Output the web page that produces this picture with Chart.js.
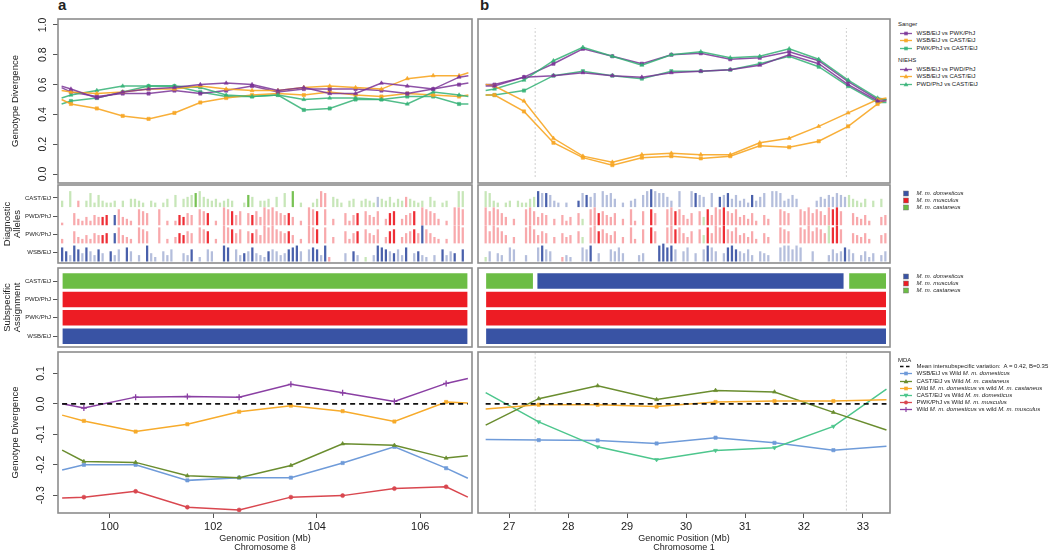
<!DOCTYPE html>
<html>
<head>
<meta charset="utf-8">
<title>Genotype divergence, chromosome 8 and chromosome 1</title>
<script src="https://cdn.jsdelivr.net/npm/chart.js@4.4.1/dist/chart.umd.min.js"></script>
<style>
  body { margin: 0; width: 1050px; height: 552px; position: relative; overflow: hidden; background: #fff;
         font-family: 'Liberation Sans', Arial, Helvetica, sans-serif; color: #222; }
  canvas { position: absolute; }
  .tag { position: absolute; font-weight: bold; font-size: 15px; line-height: 15px; }
  .lg { position: absolute; font-size: 6px; line-height: 7px; height: 7px; white-space: nowrap; display: flex; align-items: center; }
  .lg svg { flex: none; margin-right: 4.5px; }
</style>
</head>
<body>
<div class="tag" style="left:58px;top:-3px">a</div>
<div class="tag" style="left:480px;top:-3px">b</div>
<script>
// ---------- top row: genotype divergence between the classical strains ----------
// window midpoints (Mb); first and last entries are where the lines meet the panel edge
const topXA = [99.07, 99.25, 99.75, 100.25, 100.75, 101.25, 101.75, 102.25, 102.75, 103.25, 103.75, 104.25, 104.75, 105.25, 105.75, 106.25, 106.75, 106.93];
const sangerWsbPwkA  = [0.58, 0.55, 0.52, 0.54, 0.54, 0.56, 0.54, 0.56, 0.59, 0.55, 0.57, 0.57, 0.57, 0.56, 0.54, 0.57, 0.60, 0.61];
const sangerWsbCastA = [0.50, 0.47, 0.44, 0.39, 0.37, 0.41, 0.48, 0.51, 0.53, 0.54, 0.53, 0.55, 0.53, 0.52, 0.54, 0.53, 0.52, 0.53];
const sangerPwkCastA = [0.47, 0.49, 0.51, 0.55, 0.59, 0.59, 0.55, 0.52, 0.52, 0.53, 0.43, 0.44, 0.50, 0.50, 0.52, 0.52, 0.47, 0.47];
const niehsWsbPwdA   = [0.59, 0.57, 0.51, 0.55, 0.57, 0.58, 0.60, 0.61, 0.60, 0.56, 0.58, 0.54, 0.54, 0.61, 0.59, 0.57, 0.65, 0.66];
const niehsWsbCastA  = [0.56, 0.55, 0.54, 0.55, 0.57, 0.57, 0.59, 0.57, 0.56, 0.56, 0.58, 0.59, 0.58, 0.57, 0.64, 0.66, 0.66, 0.68];
const niehsPwdCastA  = [0.51, 0.53, 0.56, 0.59, 0.59, 0.59, 0.58, 0.53, 0.52, 0.53, 0.50, 0.51, 0.51, 0.50, 0.47, 0.55, 0.53, 0.52];

const topXB = [26.6, 26.75, 27.25, 27.75, 28.25, 28.75, 29.25, 29.75, 30.25, 30.75, 31.25, 31.75, 32.25, 32.75, 33.25, 33.4];
const sangerWsbPwkB  = [0.60, 0.60, 0.65, 0.74, 0.84, 0.79, 0.74, 0.80, 0.81, 0.77, 0.78, 0.82, 0.76, 0.62, 0.50, 0.50];
const sangerWsbCastB = [0.53, 0.53, 0.42, 0.21, 0.11, 0.06, 0.11, 0.12, 0.105, 0.12, 0.19, 0.18, 0.22, 0.32, 0.47, 0.50];
const sangerPwkCastB = [0.53, 0.53, 0.56, 0.66, 0.69, 0.66, 0.64, 0.69, 0.69, 0.70, 0.74, 0.79, 0.72, 0.59, 0.48, 0.48];
const niehsWsbPwdB   = [0.59, 0.59, 0.65, 0.66, 0.68, 0.66, 0.65, 0.68, 0.69, 0.70, 0.73, 0.80, 0.74, 0.60, 0.49, 0.49];
const niehsWsbCastB  = [0.60, 0.59, 0.49, 0.24, 0.12, 0.08, 0.13, 0.14, 0.13, 0.13, 0.21, 0.24, 0.32, 0.41, 0.50, 0.51];
const niehsPwdCastB  = [0.56, 0.57, 0.63, 0.76, 0.85, 0.79, 0.73, 0.80, 0.82, 0.78, 0.79, 0.84, 0.77, 0.63, 0.51, 0.50];

// ---------- diagnostic alleles: bar height per slot (0-9), negative = dark (high confidence) ----------
const strains = ['WSB/EiJ', 'PWK/PhJ', 'PWD/PhJ', 'CAST/EiJ'];   // bottom to top
const slotsA = {from: 99.08, step: 0.0782};
const slotsB = {from: 26.6, step: 0.0685};

const wsbHitsA = [-7,-5,3,-8,-6,4,-7,5,3,-6, 4,0,-5,3,6,0,-7,5,0,3, 0,-8,4,2,0,5,3,6,0,0, 4,3,-6,0,2,0,6,5,0,0,
  -8,-7,0,6,3,-4,5,-7,4,3, 2,-5,6,5,3,4,-6,-7,-8,5, 0,6,-7,-6,3,-8,2,0,0,0, 4,0,-5,3,0,2,0,3,-8,-7,
  -6,5,-4,6,3,-7,0,4,-5,3, 2,0,3,0,-6,3,5,-4,0,-6];
const pwkHitsA = [2,0,0,6,3,2,4,2,5,4, -4,-5,0,-5,8,4,3,2,0,8, 7,6,0,0,8,0,2,0,3,-5, -4,6,5,0,8,7,-6,0,2,0,
  9,8,-7,5,7,0,6,-5,7,4, 9,8,9,7,6,5,-6,4,0,2, 0,9,8,-7,0,8,0,3,0,0, 6,2,5,-6,0,7,5,4,7,0,
  3,-6,-7,0,3,5,6,-7,5,-9, 7,5,3,2,0,2,0,9,9,8];
const pwdHitsA = [1,0,0,6,3,2,4,2,5,4, -4,-5,0,-5,8,4,3,2,0,8, 7,6,0,0,8,0,2,0,2,-5, -4,6,5,0,8,7,-6,0,2,0,
  9,8,-7,5,7,0,6,-5,7,4, 9,8,9,7,6,5,-6,4,0,2, 0,9,8,-7,0,8,0,3,0,0, 6,2,5,-6,0,7,5,4,7,0,
  3,-6,-7,0,3,5,6,-7,0,9, 8,7,6,3,0,2,0,9,9,8];
const castHitsA = [3,0,8,0,3,0,3,7,2,6, 3,2,2,3,0,3,0,4,4,3, 2,0,3,2,0,2,4,0,6,0, 4,5,6,-7,8,5,4,3,4,2,
  3,4,3,0,0,2,-6,5,0,3, 3,4,0,5,0,7,0,-8,0,2, 0,0,2,4,8,7,0,5,4,2, 0,3,4,0,3,4,3,2,5,4,
  3,5,2,4,3,5,4,3,2,3, 0,5,3,0,2,3,0,0,8,8];
// slots whose allele belongs to another subspecies than the strain's block
const oddA = [{66: 'mus', 75: 'cas'}, {13: 'dom', 89: 'dom'}, {13: 'dom'}, {4: 'mus', 64: 'mus', 65: 'mus', 78: 'dom', 85: 'mus'}];

const wsbHitsB = [2,5,0,4,3,0,7,6,0,0, 3,0,0,7,-8,6,5,0,0,2, 3,2,0,0,7,6,-8,0,4,0, 0,6,5,7,4,0,0,0,3,4,
  0,0,0,-8,-9,-7,-8,6,0,5, 7,0,4,0,6,-8,7,5,0,4, -7,-8,-6,5,4,6,3,0,5,4, 3,0,0,7,8,8,6,8,7,0,
  0,5,0,0,0,3,6,4,5,-7, 6,4,0,3,5,2,4,0,3,5];
const pwkHitsB = [9,6,9,8,6,4,0,3,0,0, 8,9,7,4,6,5,0,3,0,5, 3,4,0,6,3,0,8,9,-6,7, 5,4,6,0,3,0,8,2,0,7,
  0,-8,6,0,0,8,9,-7,8,5, 3,6,0,7,4,-8,5,9,8,-9, 7,6,8,4,5,3,6,2,0,5, 3,0,0,8,7,6,0,0,8,7,
  9,6,8,7,5,9,-8,-9,7,0, 0,5,4,3,5,2,0,0,4,5];
const pwdHitsB = [9,7,9,8,6,4,0,3,0,0, 8,9,7,4,6,5,0,3,0,5, 2,4,0,6,3,0,8,9,-6,7, 5,4,6,0,3,0,8,2,0,7,
  0,-8,6,0,0,8,9,-7,8,5, 3,6,0,7,4,-8,5,9,8,-9, 7,6,8,4,5,3,6,2,0,5, 3,0,0,8,7,6,0,0,8,7,
  9,6,8,7,5,9,-8,-9,7,0, 0,6,4,3,5,2,0,0,4,5];
const castHitsB = [8,7,3,2,0,2,3,0,3,2, 2,4,5,-8,7,-7,6,3,2,0, 2,0,0,-3,7,-6,5,7,0,8, 6,7,4,0,2,0,3,4,0,6,
  8,-9,8,7,7,5,3,0,8,0, 0,8,-7,6,5,0,7,0,-5,6, -7,4,6,3,4,2,-6,3,5,7, 0,8,8,7,3,4,6,4,0,0,
  0,0,3,5,4,6,5,7,6,5, 6,4,3,2,4,0,3,0,4,0];
const oddB = [{0: 'cas', 19: 'mus'}, {24: 'cas', 54: 'cas', 85: 'cas'}, {24: 'cas', 54: 'cas'}, {}];

// ---------- subspecific assignment blocks: [row, from Mb, to Mb, subspecies] ----------
const assignA = [[0, 99.08, 106.92, 'dom'], [1, 99.08, 106.92, 'mus'], [2, 99.08, 106.92, 'mus'], [3, 99.08, 106.92, 'cas']];
const assignB = [[0, 26.6, 33.4, 'dom'], [1, 26.6, 33.4, 'mus'], [2, 26.6, 33.4, 'mus'],
                 [3, 26.6, 27.41, 'cas'], [3, 27.47, 32.68, 'dom'], [3, 32.76, 33.4, 'cas']];
const breaksB = [27.44, 32.72];

// ---------- bottom row: MDA comparisons with wild mice ----------
const mdaXA = [99.08, 99.5, 100.5, 101.5, 102.5, 103.5, 104.5, 105.5, 106.5, 106.92];
const wsbWildDomA  = [-0.217, -0.200, -0.200, -0.251, -0.242, -0.242, -0.194, -0.141, -0.211, -0.244];
const castWildCasA = [-0.152, -0.189, -0.192, -0.236, -0.242, -0.202, -0.131, -0.136, -0.178, -0.170];
const wildDomCasA  = [-0.037, -0.056, -0.091, -0.067, -0.026, -0.006, -0.024, -0.058, 0.006, 0.003];
const pwkWildMusA  = [-0.309, -0.306, -0.287, -0.339, -0.348, -0.306, -0.301, -0.278, -0.272, -0.306];
const wildDomMusA  = [0.000, -0.014, 0.022, 0.024, 0.022, 0.064, 0.036, 0.008, 0.067, 0.083];
const mdaXB = [26.6, 27.5, 28.5, 29.5, 30.5, 31.5, 32.5, 33.4];
const wsbWildDomB  = [-0.117, -0.119, -0.120, -0.130, -0.111, -0.128, -0.152, -0.139];
const castWildCasB = [-0.070, 0.017, 0.059, 0.014, 0.044, 0.039, -0.028, -0.086];
const wildDomCasB  = [-0.017, -0.003, -0.003, -0.009, 0.006, 0.009, 0.009, 0.013];
const castWildDomB = [0.037, -0.059, -0.141, -0.183, -0.153, -0.144, -0.074, 0.048];
const meanLevel = 0;

const topTicks = [0, 0.2, 0.4, 0.6, 0.8, 1.0];
const mdaTicks = [0.1, 0, -0.1, -0.2, -0.3];
const xTicksA = [100, 102, 104, 106];
const xTicksB = [27, 28, 29, 30, 31, 32, 33];

// ---------- colours ----------
const PURPLE = 'rgba(122,52,150,0.85)', ORANGE = 'rgba(247,166,36,0.9)', GREEN = 'rgba(52,178,118,0.85)';
const BLUE = '#6F9BD9', OLIVE = '#6A8D2F', ORANGE2 = '#F7AB2B', TEAL = '#4DC68D', RED = '#D9474F', PURPLE2 = '#8A3FA3';
const speciesRGB = {dom: '57,83,164', mus: '237,28,36', cas: '108,189,69'};
const TICK = '#555';

Chart.defaults.font.family = "'Liberation Sans', Arial, Helvetica, sans-serif";
Chart.defaults.color = '#222';

const frame = {
  id: 'frame',
  afterDatasetsDraw(chart) {
    const {ctx, chartArea: a} = chart;
    ctx.save();
    ctx.strokeStyle = '#8d8d8d';
    ctx.lineWidth = 1.6;
    ctx.strokeRect(a.left, a.top, a.right - a.left, a.bottom - a.top);
    ctx.restore();
  }
};

function fit(size) {
  return s => {
    if (s.isHorizontal()) s.height = size; else s.width = size;
    s.paddingLeft = s.paddingRight = s.paddingTop = s.paddingBottom = 0;
  };
}
function fixedTicks(vals) {
  return s => { s.ticks = vals.map(v => ({value: v})); };
}

function yAxis(min, max, ticks, opt) {
  if (!opt) return {type: 'linear', min, max, display: false, offset: false};
  return {
    type: 'linear', min, max, offset: false,
    afterBuildTicks: fixedTicks(ticks),
    afterFit: fit(58),
    border: {display: false},
    grid: {drawOnChartArea: false, tickLength: 5, color: TICK, offset: false},
    ticks: {
      autoSkip: false,
      minRotation: opt.rotate ? 90 : 0, maxRotation: opt.rotate ? 90 : 0,
      crossAlign: opt.rotate ? 'center' : 'near', padding: opt.rotate ? 3 : 2,
      font: {size: opt.size}, color: '#222', callback: opt.label
    },
    title: {display: true, text: opt.title, font: {size: 9.5, lineHeight: 1.05}, color: '#222',
            padding: {top: opt.tpad, bottom: 0}}
  };
}

function xAxis(range, ticks, title) {
  if (!ticks) return {type: 'linear', min: range[0], max: range[1], display: false, offset: false};
  return {
    type: 'linear', min: range[0], max: range[1], offset: false,
    afterBuildTicks: fixedTicks(ticks),
    afterFit: fit(39),
    border: {display: false},
    grid: {drawOnChartArea: false, tickLength: 5, color: TICK, offset: false},
    ticks: {autoSkip: false, maxRotation: 0, minRotation: 0, padding: 2, font: {size: 11}, color: '#222',
            callback: v => String(v)},
    title: {display: true, text: title, font: {size: 9, lineHeight: 1.0}, color: '#222', padding: {top: 0, bottom: 0}}
  };
}

const COLS = {
  a: {left: 0, width: 474, pad: [0, 2], range: [99, 107]},
  b: {left: 476, width: 416, pad: [2, 2], range: [26.47, 33.46]}
};
const ROWS = {
  top: {top: 19, height: 164},
  alleles: {top: 185, height: 78},
  assign: {top: 268, height: 79},
  mda: {top: 352, height: 161, xAxis: 39}
};

function panel(col, row, config) {
  const c = COLS[col], r = ROWS[row];
  const cv = document.createElement('canvas');
  cv.width = c.width;
  cv.height = r.height + 2 + (r.xAxis || 2);
  cv.style.left = c.left + 'px';
  cv.style.top = (r.top - 2) + 'px';
  document.body.appendChild(cv);
  Object.assign(config.options, {
    responsive: false, animation: false, events: [],
    layout: {padding: {left: c.pad[0], right: c.pad[1], top: 2, bottom: r.xAxis ? 0 : 2}},
    plugins: {legend: {display: false}, tooltip: {enabled: false}}
  });
  config.plugins = [frame];
  return new Chart(cv, config);
}

function line(xs, ys, color, style, extra) {
  const last = xs.length - 1;
  return Object.assign({
    data: xs.map((x, i) => ({x, y: ys[i]})),
    borderColor: color, backgroundColor: color, borderWidth: 1.5,
    pointStyle: style, pointRadius: c => (c.dataIndex === 0 || c.dataIndex === last) ? 0 : 2.3,
    pointBorderWidth: 0.6, tension: 0
  }, extra || {});
}
function vline(x, y0, y1) {
  return {data: [{x, y: y0}, {x, y: y1}], borderColor: '#cfcfcf', borderWidth: 1, borderDash: [2, 2], pointRadius: 0};
}
function meanLine(xs) {
  return {data: [{x: xs[0], y: meanLevel}, {x: xs[xs.length - 1], y: meanLevel}],
          borderColor: '#111', borderWidth: 1.8, borderDash: [5, 4], pointRadius: 0};
}

const rowCentre = 0.47;
const rowTicks = strains.map((s, i) => i + rowCentre);
const strainLabel = v => strains[Math.round(v - rowCentre)];

// ---------- top row ----------
panel('a', 'top', {
  type: 'line',
  data: {datasets: [
    line(topXA, niehsWsbPwdA, PURPLE, 'triangle'),
    line(topXA, niehsWsbCastA, ORANGE, 'triangle'),
    line(topXA, niehsPwdCastA, GREEN, 'triangle'),
    line(topXA, sangerWsbPwkA, PURPLE, 'rect'),
    line(topXA, sangerWsbCastA, ORANGE, 'rect'),
    line(topXA, sangerPwkCastA, GREEN, 'rect')
  ]},
  options: {scales: {
    x: xAxis(COLS.a.range),
    y: yAxis(-0.06, 1.04, topTicks, {rotate: true, size: 10.5, label: v => v.toFixed(1), title: 'Genotype Divergence', tpad: 10})
  }}
});
panel('b', 'top', {
  type: 'line',
  data: {datasets: [
    line(topXB, niehsWsbPwdB, PURPLE, 'triangle'),
    line(topXB, niehsWsbCastB, ORANGE, 'triangle'),
    line(topXB, niehsPwdCastB, GREEN, 'triangle'),
    line(topXB, sangerWsbPwkB, PURPLE, 'rect'),
    line(topXB, sangerWsbCastB, ORANGE, 'rect'),
    line(topXB, sangerPwkCastB, GREEN, 'rect'),
    vline(breaksB[0], -0.02, 0.98),
    vline(breaksB[1], -0.02, 0.98)
  ]},
  options: {scales: {x: xAxis(COLS.b.range), y: yAxis(-0.06, 1.04)}}
});

// ---------- diagnostic alleles ----------
function speciesAt(segs, row, x) {
  let best = null, bestD = Infinity;
  segs.forEach(([r, a, b, sp]) => {
    if (r !== row) return;
    const d = x < a ? a - x : (x > b ? x - b : 0);
    if (d < bestD) { bestD = d; best = sp; }
  });
  return best;
}
function alleleBars(rows, odd, slots, segs) {
  const bars = [];
  rows.forEach((hits, r) => {
    hits.forEach((h, i) => {
      if (!h) return;
      const x = slots.from + i * slots.step;
      const sp = odd[r][i] || speciesAt(segs, r, x);
      const alpha = h < 0 ? 0.92 : 0.38;
      bars.push({x, y: [r - 0.02, r - 0.02 + 0.95 * Math.abs(h) / 9], c: `rgba(${speciesRGB[sp]},${alpha})`});
    });
  });
  return bars;
}
function allelePanel(col, rows, odd, slots, segs, withAxis) {
  panel(col, 'alleles', {
    type: 'bar',
    data: {datasets: [{data: alleleBars(rows, odd, slots, segs), backgroundColor: c => c.raw.c,
                       barThickness: 1.6, borderWidth: 0}]},
    options: {scales: {
      x: xAxis(COLS[col].range),
      y: yAxis(-0.12, 4.18, rowTicks, withAxis ? {size: 6, label: strainLabel, title: ['Diagnostic', 'Alleles'], tpad: 2} : null)
    }}
  });
}
allelePanel('a', [wsbHitsA, pwkHitsA, pwdHitsA, castHitsA], oddA, slotsA, assignA, true);
allelePanel('b', [wsbHitsB, pwkHitsB, pwdHitsB, castHitsB], oddB, slotsB, assignB, false);

// ---------- subspecific assignment ----------
function assignPanel(col, segs, withAxis) {
  panel(col, 'assign', {
    type: 'bar',
    data: {datasets: [{
      data: segs.map(([r, a, b, sp]) => ({y: r + rowCentre, x: [a, b], c: `rgb(${speciesRGB[sp]})`})),
      backgroundColor: c => c.raw.c, barThickness: 16.5,
      borderColor: 'rgba(255,255,255,0.5)', borderWidth: 0.8, borderSkipped: false
    }]},
    options: {indexAxis: 'y', scales: {
      x: xAxis(COLS[col].range),
      y: yAxis(-0.12, 4.18, rowTicks, withAxis ? {size: 6, label: strainLabel, title: ['Subspecific', 'Assignment'], tpad: 2} : null)
    }}
  });
}
assignPanel('a', assignA, true);
assignPanel('b', assignB, false);

// ---------- bottom row ----------
const crossRadius = xs => c => (c.dataIndex === 0 || c.dataIndex === xs.length - 1) ? 0 : 3;
panel('a', 'mda', {
  type: 'line',
  data: {datasets: [
    meanLine(mdaXA),
    line(mdaXA, wildDomMusA, PURPLE2, 'cross', {pointRadius: crossRadius(mdaXA), pointBorderWidth: 1.3}),
    line(mdaXA, wildDomCasA, ORANGE2, 'rect'),
    line(mdaXA, castWildCasA, OLIVE, 'triangle'),
    line(mdaXA, wsbWildDomA, BLUE, 'rect'),
    line(mdaXA, pwkWildMusA, RED, 'circle', {pointRadius: c => (c.dataIndex === 0 || c.dataIndex === mdaXA.length - 1) ? 0 : 2})
  ]},
  options: {scales: {
    x: xAxis(COLS.a.range, xTicksA, ['Genomic Position (Mb)', 'Chromosome 8']),
    y: yAxis(-0.358, 0.17, mdaTicks, {rotate: true, size: 10.5, label: v => v.toFixed(1), title: 'Genotype Divergence', tpad: 10})
  }}
});
panel('b', 'mda', {
  type: 'line',
  data: {datasets: [
    meanLine(mdaXB),
    line(mdaXB, wildDomCasB, ORANGE2, 'rect'),
    line(mdaXB, castWildCasB, OLIVE, 'triangle'),
    line(mdaXB, castWildDomB, TEAL, 'triangle', {pointRotation: 180}),
    line(mdaXB, wsbWildDomB, BLUE, 'rect'),
    vline(breaksB[0], -0.35, 0.17),
    vline(breaksB[1], -0.35, 0.17)
  ]},
  options: {scales: {
    x: xAxis(COLS.b.range, xTicksB, ['Genomic Position (Mb)', 'Chromosome 1']),
    y: yAxis(-0.358, 0.17)
  }}
});

// ---------- legends ----------
function marker(color, shape) {
  const ln = shape === 'dash'
    ? `<line x1="0" y1="3.5" x2="12" y2="3.5" stroke="${color}" stroke-width="1.6" stroke-dasharray="3.5,2.5"/>`
    : (shape === 'box' ? '' : `<line x1="0" y1="3.5" x2="12" y2="3.5" stroke="${color}" stroke-width="1.3"/>`);
  let m = '';
  if (shape === 'rect') m = `<rect x="4.2" y="1.7" width="3.6" height="3.6" fill="${color}"/>`;
  if (shape === 'triangle') m = `<polygon points="6,1 8.4,5.3 3.6,5.3" fill="${color}"/>`;
  if (shape === 'tridown') m = `<polygon points="6,6 8.4,1.7 3.6,1.7" fill="${color}"/>`;
  if (shape === 'circle') m = `<circle cx="6" cy="3.5" r="1.9" fill="${color}"/>`;
  if (shape === 'cross') m = `<path d="M6 1V6M3.5 3.5H8.5" stroke="${color}" stroke-width="1.2"/>`;
  if (shape === 'box') m = `<rect x="3.5" y="1" width="5" height="5" fill="${color}" stroke="#777" stroke-width="0.5"/>`;
  return `<svg width="12" height="7" viewBox="0 0 12 7">${ln}${m}</svg>`;
}
function legend(x, y, items, step, afterTitle, beforeTitle) {
  items.forEach((it, i) => {
    if (i > 0) {
      if (it.title) y += step + beforeTitle;
      else y += items[i - 1].title ? afterTitle : step;
    }
    const d = document.createElement('div');
    d.className = 'lg';
    d.style.top = (y - 3.5) + 'px';
    d.style.left = (it.title ? x - 2 : x) + 'px';
    d.innerHTML = it.title ? it.title : marker(it.color, it.shape) + '<span>' + it.label + '</span>';
    document.body.appendChild(d);
  });
}
const legendTop = [
  {title: 'Sanger'},
  {label: 'WSB/EiJ vs PWK/PhJ', color: PURPLE, shape: 'rect'},
  {label: 'WSB/EiJ vs CAST/EiJ', color: ORANGE, shape: 'rect'},
  {label: 'PWK/PhJ vs CAST/EiJ', color: GREEN, shape: 'rect'},
  {title: 'NIEHS'},
  {label: 'WSB/EiJ vs PWD/PhJ', color: PURPLE, shape: 'triangle'},
  {label: 'WSB/EiJ vs CAST/EiJ', color: ORANGE, shape: 'triangle'},
  {label: 'PWD/PhJ vs CAST/EiJ', color: GREEN, shape: 'triangle'}
];
const legendSpecies = [
  {label: '<i>M. m. domesticus</i>', color: `rgb(${speciesRGB.dom})`, shape: 'box'},
  {label: '<i>M. m. musculus</i>', color: `rgb(${speciesRGB.mus})`, shape: 'box'},
  {label: '<i>M. m. castaneus</i>', color: `rgb(${speciesRGB.cas})`, shape: 'box'}
];
const legendMda = [
  {title: 'MDA'},
  {label: 'Mean intersubspecific variation:&nbsp; A = 0.42, B=0.35', color: '#111', shape: 'dash'},
  {label: 'WSB/EiJ vs Wild <i>M. m. domesticus</i>', color: BLUE, shape: 'rect'},
  {label: 'CAST/EiJ vs Wild <i>M. m. castaneus</i>', color: OLIVE, shape: 'triangle'},
  {label: 'Wild <i>M. m. domesticus</i> vs wild <i>M. m. castaneus</i>', color: ORANGE2, shape: 'rect'},
  {label: 'CAST/EiJ vs Wild <i>M. m. domesticus</i>', color: TEAL, shape: 'tridown'},
  {label: 'PWK/PhJ vs Wild <i>M. m. musculus</i>', color: RED, shape: 'circle'},
  {label: 'Wild <i>M. m. domesticus</i> vs wild <i>M. m. musculus</i>', color: PURPLE2, shape: 'cross'}
];
legend(900, 24.3, legendTop, 7.5, 9, 4.5);
legend(900, 193.3, legendSpecies, 7, 7, 0);
legend(900, 276.7, legendSpecies, 6.7, 6.7, 0);
legend(900, 360.5, legendMda, 7.15, 6.3, 0);
</script>
</body>
</html>
